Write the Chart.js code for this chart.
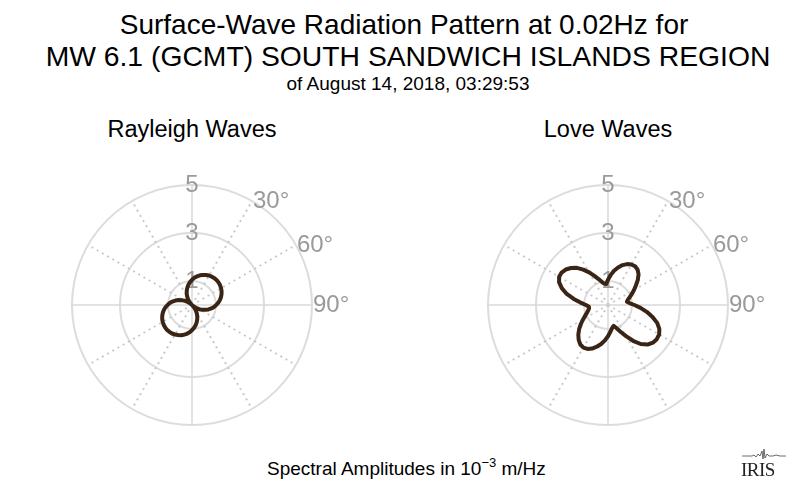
<!DOCTYPE html>
<html>
<head>
<meta charset="utf-8">
<title>Surface-Wave Radiation Pattern</title>
<script src="https://cdn.jsdelivr.net/npm/chart.js@4.4.1/dist/chart.umd.min.js"></script>
<style>
  body { margin: 0; width: 800px; height: 496px; background: #fff; position: relative; overflow: hidden;
         font-family: "Liberation Sans", Arial, Helvetica, sans-serif; color: #000; }
  .line { position: absolute; left: 0; width: 800px; text-align: center; white-space: nowrap; line-height: 1; }
  #title1 { top: 11px; left: 4px; font-size: 28px; }
  #title2 { top: 42px; left: 8px; font-size: 28.3px; }
  #subtitle { top: 74px; left: 8px; font-size: 19px; }
  .panel-title { position: absolute; top: 118px; width: 240px; text-align: center; font-size: 23.5px;
                 line-height: 1; white-space: nowrap; }
  #caption { position: absolute; left: 267px; top: 459px; font-size: 19px; line-height: 1; white-space: nowrap; }
  #caption sup { font-size: 13px; vertical-align: 8px; line-height: 0; }
  .plot { position: absolute; top: 155px; }
  #logo { position: absolute; left: 740px; top: 448px; width: 48px; height: 32px; }
  #logo span { position: absolute; left: 1px; top: 12px; font-family: "Liberation Serif", "DejaVu Serif", serif;
               font-size: 19px; line-height: 1; color: #222; letter-spacing: -0.5px; }
</style>
</head>
<body>
<div class="line" id="title1">Surface-Wave Radiation Pattern at 0.02Hz for</div>
<div class="line" id="title2">MW 6.1 (GCMT) SOUTH SANDWICH ISLANDS REGION</div>
<div class="line" id="subtitle">of August 14, 2018, 03:29:53</div>

<div class="panel-title" style="left:72px">Rayleigh Waves</div>
<div class="panel-title" style="left:488px">Love Waves</div>

<canvas class="plot" id="rayleigh-chart" width="360" height="300" style="left:12px"></canvas>
<canvas class="plot" id="love-chart" width="360" height="300" style="left:428px"></canvas>

<div id="caption">Spectral Amplitudes in 10<sup>−3</sup> m/Hz</div>

<div id="logo">
  <svg width="48" height="12" style="position:absolute;left:0;top:0">
    <polyline points="2,8 12,8 14,7 16,9 18,6 20,8 22,3 23,11 24,1 25,10 27,6 29,8 33,8 36,7 40,8 46,8"
              fill="none" stroke="#444" stroke-width="0.8"/>
  </svg>
  <span>IRIS</span>
</div>

<script>
// azimuth of each sample, degrees clockwise from north
const azimuths = [0, 5, 10, 15, 20, 25, 30, 35, 40, 45, 50, 55, 60, 65, 70, 75, 80, 85,
  90, 95, 100, 105, 110, 115, 120, 125, 130, 135, 140, 145, 150, 155, 160, 165, 170, 175,
  180, 185, 190, 195, 200, 205, 210, 215, 220, 225, 230, 235, 240, 245, 250, 255, 260, 265,
  270, 275, 280, 285, 290, 295, 300, 305, 310, 315, 320, 325, 330, 335, 340, 345, 350, 355];

// spectral amplitudes, 10^-3 m/Hz
const rayleighAmp = [1.05, 1.14, 1.21, 1.28, 1.33, 1.38, 1.42, 1.44, 1.46, 1.46, 1.45, 1.43,
  1.40, 1.36, 1.31, 1.25, 1.18, 1.10, 1.01, 0.92, 0.82, 0.71, 0.59, 0.48, 0.35, 0.23, 0.10, 0.04,
  0.15, 0.28, 0.40, 0.52, 0.64, 0.75, 0.86, 0.96, 1.05, 1.14, 1.22, 1.28, 1.34, 1.38, 1.42, 1.45,
  1.46, 1.47, 1.46, 1.44, 1.41, 1.37, 1.32, 1.26, 1.19, 1.11, 1.02, 0.93, 0.83, 0.72, 0.60, 0.48,
  0.36, 0.23, 0.10, 0.04, 0.15, 0.28, 0.40, 0.52, 0.64, 0.75, 0.86, 0.96];

const loveAmp = [1.05, 1.25, 1.45, 1.62, 1.77, 1.88, 1.95, 1.97, 1.92, 1.80, 1.62, 1.42,
  1.25, 1.10, 0.97, 0.86, 0.80, 0.90, 1.10, 1.36, 1.64, 1.92, 2.18, 2.36, 2.46, 2.48, 2.44, 2.33,
  2.12, 1.82, 1.50, 1.23, 1.02, 0.90, 0.98, 1.12, 1.30, 1.48, 1.65, 1.80, 1.93, 2.02, 2.05, 2.01,
  1.90, 1.75, 1.57, 1.38, 1.20, 1.05, 0.93, 0.85, 0.80, 0.80, 0.92, 1.15, 1.45, 1.78, 2.05, 2.25,
  2.35, 2.36, 2.30, 2.18, 2.02, 1.80, 1.57, 1.34, 1.15, 1.00, 0.90, 0.88];

const radialTicks = [0, 1, 3, 5];
const angleTickLabels = [30, 60, 90];

const GRAY_TEXT = "#9a9a9a";
const FONT = "'Liberation Sans', Arial, Helvetica, sans-serif";

// writes 30°, 60°, 90° just outside the outer ring
const angleLabels = {
  id: "angleLabels",
  afterDraw(chart) {
    const r = chart.scales.r;
    const ctx = chart.ctx;
    ctx.save();
    ctx.font = `24px ${FONT}`;
    ctx.fillStyle = GRAY_TEXT;
    ctx.textAlign = "left";
    ctx.textBaseline = "middle";
    angleTickLabels.forEach(deg => {
      const p = r.getPointPositionForValue(azimuths.indexOf(deg), r.max);
      ctx.fillText(`${deg}°`, p.x + 1, p.y);
    });
    ctx.restore();
  },
};

function drawPattern(id, values) {
  return new Chart(document.getElementById(id), {
    type: "radar",
    data: {
      labels: azimuths,
      datasets: [{
        data: values,
        borderColor: "#3a2416",
        borderWidth: 4,
        backgroundColor: "transparent",
        fill: false,
        pointRadius: 0,
        tension: 0,
        borderJoinStyle: "round",
      }],
    },
    options: {
      responsive: false,
      animation: false,
      layout: { padding: { left: 48, right: 48, top: 18, bottom: 18 } },
      plugins: { legend: { display: false }, tooltip: { enabled: false } },
      scales: {
        r: {
          min: 0,
          max: 5,
          startAngle: 0,
          afterBuildTicks: scale => { scale.ticks = radialTicks.map(v => ({ value: v })); },
          ticks: {
            callback: v => String(v),
            color: GRAY_TEXT,
            font: { family: FONT, size: 24 },
            showLabelBackdrop: false,
            backdropPadding: 0,
          },
          grid: { circular: true, color: "#dcdcdc", lineWidth: 2 },
          angleLines: {
            color: ctx => ctx.index % 18 === 0 ? "#d8d8d8" : "#c8c8c8",
            lineWidth: ctx => ctx.index % 18 === 0 ? 1.5 : (ctx.index % 6 === 0 ? 2 : 0),
            borderDash: ctx => ctx.index % 18 === 0 ? [] : [2, 4],
          },
          pointLabels: { display: false },
        },
      },
    },
    plugins: [angleLabels],
  });
}

drawPattern("rayleigh-chart", rayleighAmp);
drawPattern("love-chart", loveAmp);
</script>
</body>
</html>
